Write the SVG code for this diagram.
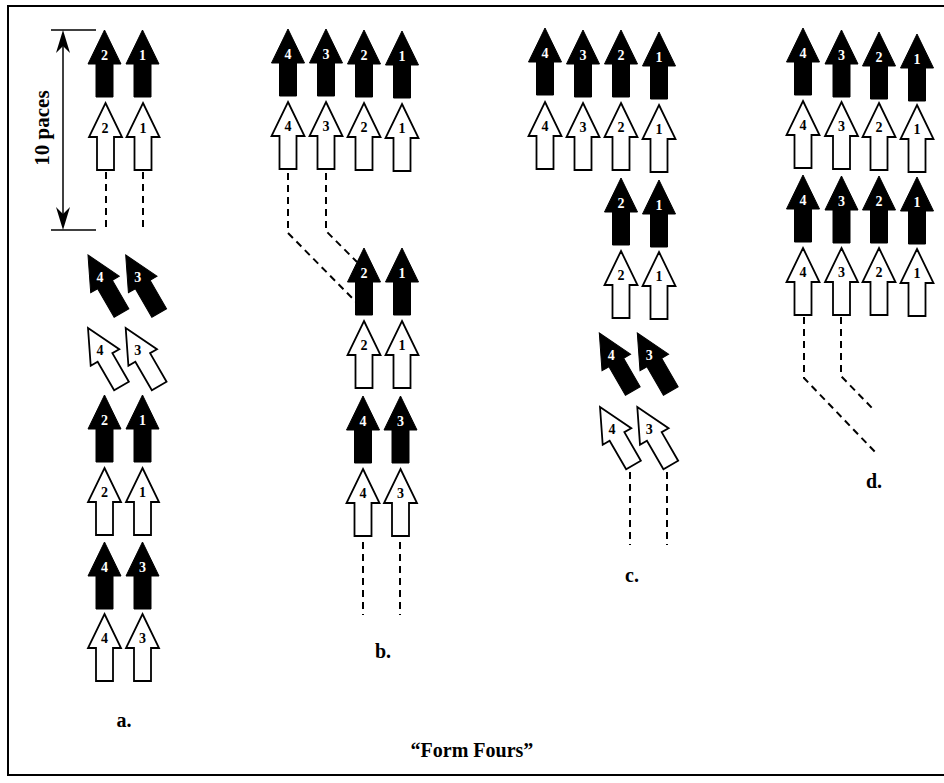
<svg xmlns="http://www.w3.org/2000/svg" xmlns:xlink="http://www.w3.org/1999/xlink" width="944" height="783" viewBox="0 0 944 783">
<style>
.blk{fill:#000;stroke:#000;stroke-width:1;stroke-linejoin:miter}
.wht{fill:#fff;stroke:#000;stroke-width:1.8;stroke-linejoin:miter}
.nb{font-family:"Liberation Serif","Times New Roman",serif;font-weight:bold;font-size:14px;text-anchor:middle;fill:#fff}
.nw{font-family:"Liberation Serif","Times New Roman",serif;font-weight:bold;font-size:14px;text-anchor:middle;fill:#000}
.lbl{font-family:"Liberation Serif","Times New Roman",serif;font-weight:bold;font-size:20px;text-anchor:middle;fill:#000}
.dash{fill:none;stroke:#000;stroke-width:2;stroke-dasharray:7,5}
</style>
<defs>
<path id="arr" d="M0,0 L16.5,34 L8.5,34 L8.5,67 L-8.5,67 L-8.5,34 L-16.5,34 Z"/>
</defs>
<rect x="0" y="0" width="944" height="783" fill="#fff"/>
<rect x="8" y="6" width="950" height="769" fill="none" stroke="#000" stroke-width="2"/>

<!-- 10 paces dimension -->
<g id="dimension">
<line x1="51" y1="30" x2="96" y2="30" stroke="#000" stroke-width="1.5"/>
<line x1="51" y1="230" x2="96" y2="230" stroke="#000" stroke-width="1.5"/>
<line x1="63" y1="34" x2="63" y2="226" stroke="#000" stroke-width="1.5"/>
<path d="M63,30 L70,53 L63,46 L56,53 Z" fill="#000"/>
<path d="M63,230 L70,207 L63,214 L56,207 Z" fill="#000"/>
<text transform="translate(49,128) rotate(-90)" style="font-family:'Liberation Serif','Times New Roman',serif;font-weight:bold;font-size:21px;text-anchor:middle">10 paces</text>
</g>

<!-- connectors -->
<g id="connectors">
<path class="dash" d="M106,172 V230"/>
<path class="dash" d="M143,172 V230"/>
<path class="dash" d="M288,173 V233 L357,303"/>
<path class="dash" d="M326,173 V231 L357,262"/>
<path class="dash" d="M363,542 V615"/>
<path class="dash" d="M400,542 V615"/>
<path class="dash" d="M630,472 V545"/>
<path class="dash" d="M667,472 V545"/>
<path class="dash" d="M804,317 V378 L877,454"/>
<path class="dash" d="M841,317 V376 L874,410"/>
</g>

<!-- column a -->
<g id="a-b2a"><use href="#arr" x="104.5" y="30" class="blk"/><text class="nb" x="104.5" y="60">2</text></g>
<g id="a-b1a"><use href="#arr" x="142.5" y="30" class="blk"/><text class="nb" x="142.5" y="60">1</text></g>
<g id="a-w2a"><use href="#arr" x="105.5" y="103" class="wht"/><text class="nw" x="105" y="133">2</text></g>
<g id="a-w1a"><use href="#arr" x="143" y="103" class="wht"/><text class="nw" x="143" y="133">1</text></g>
<g id="a-b4r"><use href="#arr" transform="translate(88,255) rotate(-30)" class="blk"/><text class="nb" x="100" y="282">4</text></g>
<g id="a-b3r"><use href="#arr" transform="translate(125.7,255) rotate(-30)" class="blk"/><text class="nb" x="137.7" y="282">3</text></g>
<g id="a-w4r"><use href="#arr" transform="translate(88,328) rotate(-30)" class="wht"/><text class="nw" x="100" y="355">4</text></g>
<g id="a-w3r"><use href="#arr" transform="translate(125.7,328) rotate(-30)" class="wht"/><text class="nw" x="137.7" y="355">3</text></g>
<g id="a-b2b"><use href="#arr" x="104.5" y="395" class="blk"/><text class="nb" x="104.5" y="425">2</text></g>
<g id="a-b1b"><use href="#arr" x="142.5" y="395" class="blk"/><text class="nb" x="142.5" y="425">1</text></g>
<g id="a-w2b"><use href="#arr" x="104.5" y="468" class="wht"/><text class="nw" x="104.5" y="497">2</text></g>
<g id="a-w1b"><use href="#arr" x="142.5" y="468" class="wht"/><text class="nw" x="142.5" y="497">1</text></g>
<g id="a-b4"><use href="#arr" x="104.5" y="542" class="blk"/><text class="nb" x="104.5" y="572">4</text></g>
<g id="a-b3"><use href="#arr" x="142.5" y="542" class="blk"/><text class="nb" x="142.5" y="572">3</text></g>
<g id="a-w4"><use href="#arr" x="104.5" y="614" class="wht"/><text class="nw" x="104.5" y="643">4</text></g>
<g id="a-w3"><use href="#arr" x="142.5" y="614" class="wht"/><text class="nw" x="142.5" y="643">3</text></g>
<text class="lbl" x="124" y="727">a.</text>

<!-- column b -->
<g id="b-b4"><use href="#arr" x="288" y="29" class="blk"/><text class="nb" x="288" y="59">4</text></g>
<g id="b-b3"><use href="#arr" x="326" y="29" class="blk"/><text class="nb" x="326" y="59">3</text></g>
<g id="b-b2"><use href="#arr" x="364" y="30" class="blk"/><text class="nb" x="364" y="60">2</text></g>
<g id="b-b1"><use href="#arr" x="402" y="31" class="blk"/><text class="nb" x="402" y="61">1</text></g>
<g id="b-w4"><use href="#arr" x="288" y="102" class="wht"/><text class="nw" x="288" y="131">4</text></g>
<g id="b-w3"><use href="#arr" x="326" y="102" class="wht"/><text class="nw" x="326" y="131">3</text></g>
<g id="b-w2"><use href="#arr" x="364" y="103" class="wht"/><text class="nw" x="364" y="132">2</text></g>
<g id="b-w1"><use href="#arr" x="402" y="104" class="wht"/><text class="nw" x="402" y="133">1</text></g>
<g id="b-b2b"><use href="#arr" x="364" y="248" class="blk"/><text class="nb" x="364" y="278">2</text></g>
<g id="b-b1b"><use href="#arr" x="402" y="248" class="blk"/><text class="nb" x="402" y="278">1</text></g>
<g id="b-w2b"><use href="#arr" x="364" y="321" class="wht"/><text class="nw" x="364" y="350">2</text></g>
<g id="b-w1b"><use href="#arr" x="402" y="321" class="wht"/><text class="nw" x="402" y="350">1</text></g>
<g id="b-b4b"><use href="#arr" x="363" y="396" class="blk"/><text class="nb" x="363" y="426">4</text></g>
<g id="b-b3b"><use href="#arr" x="400.5" y="396" class="blk"/><text class="nb" x="400.5" y="426">3</text></g>
<g id="b-w4b"><use href="#arr" x="363" y="469" class="wht"/><text class="nw" x="363" y="498">4</text></g>
<g id="b-w3b"><use href="#arr" x="400.5" y="469" class="wht"/><text class="nw" x="400.5" y="498">3</text></g>
<text class="lbl" x="383" y="658">b.</text>

<!-- column c -->
<g id="c-b4"><use href="#arr" x="545" y="28" class="blk"/><text class="nb" x="545" y="58">4</text></g>
<g id="c-b3"><use href="#arr" x="583" y="30" class="blk"/><text class="nb" x="583" y="60">3</text></g>
<g id="c-b2"><use href="#arr" x="621" y="30" class="blk"/><text class="nb" x="621" y="60">2</text></g>
<g id="c-b1"><use href="#arr" x="659" y="32" class="blk"/><text class="nb" x="659" y="62">1</text></g>
<g id="c-w4"><use href="#arr" x="545" y="102" class="wht"/><text class="nw" x="545" y="131">4</text></g>
<g id="c-w3"><use href="#arr" x="583" y="103" class="wht"/><text class="nw" x="583" y="132">3</text></g>
<g id="c-w2"><use href="#arr" x="621" y="103" class="wht"/><text class="nw" x="621" y="132">2</text></g>
<g id="c-w1"><use href="#arr" x="659" y="105" class="wht"/><text class="nw" x="659" y="134">1</text></g>
<g id="c-b2b"><use href="#arr" x="621" y="178" class="blk"/><text class="nb" x="621" y="208">2</text></g>
<g id="c-b1b"><use href="#arr" x="659" y="180" class="blk"/><text class="nb" x="659" y="210">1</text></g>
<g id="c-w2b"><use href="#arr" x="621" y="251" class="wht"/><text class="nw" x="621" y="280">2</text></g>
<g id="c-w1b"><use href="#arr" x="659" y="252" class="wht"/><text class="nw" x="659" y="281">1</text></g>
<g id="c-b4r"><use href="#arr" transform="translate(599.3,333) rotate(-30)" class="blk"/><text class="nb" x="611.3" y="360">4</text></g>
<g id="c-b3r"><use href="#arr" transform="translate(637.3,333) rotate(-30)" class="blk"/><text class="nb" x="649.3" y="360">3</text></g>
<g id="c-w4r"><use href="#arr" transform="translate(600,407) rotate(-30)" class="wht"/><text class="nw" x="612" y="434">4</text></g>
<g id="c-w3r"><use href="#arr" transform="translate(637.3,407) rotate(-30)" class="wht"/><text class="nw" x="649.3" y="434">3</text></g>
<text class="lbl" x="632" y="582">c.</text>

<!-- column d -->
<g id="d-b4"><use href="#arr" x="803" y="28" class="blk"/><text class="nb" x="803" y="58">4</text></g>
<g id="d-b3"><use href="#arr" x="841.5" y="30" class="blk"/><text class="nb" x="841.5" y="60">3</text></g>
<g id="d-b2"><use href="#arr" x="879" y="32" class="blk"/><text class="nb" x="879" y="62">2</text></g>
<g id="d-b1"><use href="#arr" x="917" y="34" class="blk"/><text class="nb" x="917" y="64">1</text></g>
<g id="d-w4"><use href="#arr" x="803" y="101" class="wht"/><text class="nw" x="803" y="130">4</text></g>
<g id="d-w3"><use href="#arr" x="841.5" y="102" class="wht"/><text class="nw" x="841.5" y="131">3</text></g>
<g id="d-w2"><use href="#arr" x="879" y="103" class="wht"/><text class="nw" x="879" y="132">2</text></g>
<g id="d-w1"><use href="#arr" x="917" y="105" class="wht"/><text class="nw" x="917" y="134">1</text></g>
<g id="d-b4b"><use href="#arr" x="803" y="175" class="blk"/><text class="nb" x="803" y="205">4</text></g>
<g id="d-b3b"><use href="#arr" x="841.5" y="176" class="blk"/><text class="nb" x="841.5" y="206">3</text></g>
<g id="d-b2b"><use href="#arr" x="879" y="176" class="blk"/><text class="nb" x="879" y="206">2</text></g>
<g id="d-b1b"><use href="#arr" x="917" y="177" class="blk"/><text class="nb" x="917" y="207">1</text></g>
<g id="d-w4b"><use href="#arr" x="803" y="248" class="wht"/><text class="nw" x="803" y="277">4</text></g>
<g id="d-w3b"><use href="#arr" x="841.5" y="248" class="wht"/><text class="nw" x="841.5" y="277">3</text></g>
<g id="d-w2b"><use href="#arr" x="879" y="248" class="wht"/><text class="nw" x="879" y="277">2</text></g>
<g id="d-w1b"><use href="#arr" x="917" y="249" class="wht"/><text class="nw" x="917" y="278">1</text></g>
<text class="lbl" x="874" y="488">d.</text>

<text class="lbl" x="472" y="757">“Form Fours”</text>
</svg>
